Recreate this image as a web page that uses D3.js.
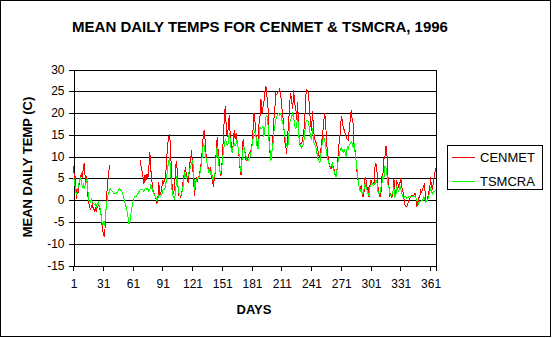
<!DOCTYPE html>
<html>
<head>
<meta charset="utf-8">
<script src="https://cdn.jsdelivr.net/npm/d3@7"></script>
<style>
  html, body { margin: 0; padding: 0; background: #fff; }
  svg { display: block; }
  text { font-family: "Liberation Sans", Arial, sans-serif; fill: #000; }
</style>
</head>
<body>
<svg id="chart" width="552" height="338"></svg>
<script>
// Daily mean temperatures, 1996 (day 1..366); null = no reading
const cenmet = [
  7.8, 5.0, 5.5, 0.3, 2.5, 2.0, 4.6, 5.5, 6.0, 5.0,
  7.9, 8.6, 4.0, 5.5, 3.0, -0.5, -1.0, -2.3, -1.5, -1.0,
  -2.0, -2.5, -1.8, -2.7, -1.5, -1.2, -1.5, -2.5, -3.5, -6.5,
  -7.5, -8.4, -6.0, -1.0, 3.0, 5.5, 7.2, 8.2, null, null,
  null, null, null, null, null, null, null, null, null, null,
  null, null, null, null, null, null, null, null, null, null,
  null, null, null, null, null, null, null, 9.3, 8.0, 6.8,
  5.5, 3.8, 5.8, 4.5, 6.0, 5.0, 7.5, 11.0, 7.0, 4.5,
  2.5, 1.8, 1.0, 0.5, -0.8, 0.2, 4.2, 1.0, 1.5, 2.8,
  4.5, 3.8, 4.8, 6.0, 9.5, 13.0, 14.5, 15.2, 11.0, 4.5,
  2.0, 1.5, 3.5, 7.8, 9.0, 4.5, 1.0, 1.5, 0.8, 1.2,
  3.5, 5.0, 6.5, 7.7, 5.0, 4.5, 4.0, 8.3, 9.0, 11.5,
  8.0, 5.0, 1.0, 3.5, 5.3, 4.5, 5.0, 5.8, 7.5, 9.0,
  12.0, 15.5, 16.2, 12.5, 9.5, 8.0, 7.5, 6.5, 7.5, 5.0,
  5.5, 3.0, 5.0, 6.5, 12.0, 14.6, 10.5, 9.0, 5.5, 6.0,
  9.5, 14.0, 18.5, 21.5, 17.0, 14.5, 16.5, 19.5, 15.0, 13.0,
  11.5, 12.5, 16.0, 14.0, 15.5, 13.0, 12.0, 9.8, 7.0, 5.7,
  10.0, 14.0, 12.0, 11.0, 9.2, 9.0, 10.0, 10.7, 11.0, 11.5,
  13.0, 16.0, 20.0, 18.0, 15.0, 12.5, 13.5, 17.5, 19.0, 23.2,
  20.0, 21.4, 22.5, 25.0, 26.3, 24.0, 22.0, 15.0, 11.0, 9.5,
  10.7, 14.0, 18.5, 21.0, 24.5, 24.2, 24.8, 25.0, 25.5, 24.0,
  21.5, 19.5, 17.0, 13.5, 12.5, 10.7, 15.0, 18.0, 22.5, 24.5,
  22.5, 21.0, 25.3, 22.0, 21.5, 18.5, 22.5, 16.5, 12.8, 13.0,
  13.0, 13.8, 15.3, 17.5, 23.5, 25.3, 25.0, 24.5, 20.7, 17.6,
  16.0, 20.5, 16.5, 14.0, 13.5, 13.0, 12.0, 10.5, 10.0, 10.7,
  13.0, 14.6, 17.0, 19.9, 19.0, 14.0, 11.0, 9.5, 8.0, 7.3,
  7.3, 8.4, 7.5, 6.9, 5.5, 5.8, 7.7, 10.5, 14.0, 15.3,
  19.2, 18.4, 16.5, 16.1, 15.3, 14.6, 14.0, 13.8, 16.0, 18.4,
  20.7, 18.5, 17.6, 12.0, 11.5, 8.7, 6.1, 4.5, 3.0, 2.0,
  3.5, 1.5, 0.7, 2.0, 5.4, 4.6, 2.5, 3.0, 0.7, 3.5,
  4.6, 3.8, 3.8, 4.0, 7.6, 8.4, 6.5, 3.0, 1.5, 0.7,
  1.5, 5.4, 6.1, 9.5, 10.0, 12.5, 10.7, 5.5, 3.4, 1.0,
  1.5, 0.7, 1.5, 5.0, 2.5, 1.5, 4.2, 3.8, 3.0, 3.8,
  5.0, 3.0, 2.3, 0.7, -1.0, -1.5, -1.5, -1.0, 0.0, 0.4,
  0.8, 1.1, 1.1, 1.1, 1.5, 1.5, -1.5, -1.0, 0.5, 0.5,
  2.3, 1.8, 2.7, 3.0, 4.0, -0.5, 0.0, 0.0, 2.0, 2.0,
  5.4, 3.0, 2.5, 4.5, 5.8, 7.3
];

const tsmcra = [
  5.0, 4.5, 2.0, 1.2, 2.5, 3.0, 4.5, 5.0, 4.2, 3.0,
  3.5, 2.5, 3.8, 4.5, 5.0, 0.0, -0.3, -0.5, 0.2, -0.5,
  -0.8, -1.0, -0.8, -1.5, -0.8, -0.5, -1.2, -2.0, -4.0, -5.5,
  -5.0, -6.0, -4.5, -1.5, 0.0, 1.5, 1.8, 2.7, 2.3, 2.0,
  1.8, 1.5, 1.5, 1.6, 1.8, 2.2, 2.6, 2.5, 2.2, 1.8,
  1.2, 0.3, -0.8, -1.5, -2.5, -4.0, -5.4, -4.8, -3.0, -1.5,
  -0.5, 0.5, 1.0, 0.8, 1.2, 1.5, 2.0, 2.3, 2.6, 2.5,
  2.4, 2.0, 2.5, 2.8, 2.4, 2.6, 2.0, 2.5, 3.5, 2.8,
  2.0, 1.5, 1.0, 0.5, 0.0, 0.3, 1.0, 1.0, 0.8, 1.2,
  2.3, 2.5, 2.5, 3.5, 5.5, 7.5, 9.0, 9.8, 6.0, 3.0,
  1.0, 0.7, 0.3, 2.0, 5.5, 4.0, 2.0, 1.2, 1.0, 1.5,
  2.5, 4.0, 6.5, 5.8, 5.0, 5.3, 6.0, 7.0, 7.5, 8.5,
  9.0, 7.5, 2.3, 3.5, 4.6, 5.0, 5.0, 5.3, 7.0, 8.0,
  11.0, 13.0, 12.5, 10.0, 9.5, 8.0, 6.5, 7.0, 6.1, 6.9,
  5.0, 4.6, 5.5, 6.5, 11.0, 12.5, 9.0, 7.5, 6.0, 7.0,
  8.5, 11.0, 12.5, 14.0, 13.5, 12.5, 13.0, 15.3, 14.0, 11.5,
  11.0, 12.5, 13.0, 12.5, 13.0, 13.8, 12.0, 10.5, 7.5, 6.5,
  9.5, 11.8, 12.0, 10.7, 10.0, 9.2, 9.0, 9.5, 10.0, 11.0,
  12.5, 14.0, 15.5, 16.0, 14.5, 12.5, 11.7, 14.0, 16.9, 16.3,
  16.5, 16.9, 14.5, 16.5, 19.0, 19.5, 17.8, 13.8, 12.0, 9.0,
  11.0, 12.5, 15.5, 17.0, 18.5, 19.2, 19.8, 19.9, 19.5, 19.9,
  18.5, 17.6, 16.9, 15.0, 13.5, 12.3, 12.0, 14.6, 17.6, 18.5,
  19.2, 19.9, 19.2, 17.0, 16.5, 16.9, 19.5, 15.3, 13.0, 12.5,
  12.0, 12.5, 13.0, 15.0, 17.5, 18.4, 18.4, 18.0, 16.0, 14.6,
  13.8, 16.5, 13.3, 13.0, 12.3, 11.5, 10.0, 9.2, 8.7, 9.0,
  12.3, 13.0, 14.5, 14.0, 13.0, 11.0, 9.5, 9.0, 8.0, 7.7,
  8.0, 8.4, 7.0, 6.5, 5.5, 5.4, 7.7, 9.2, 10.5, 11.5,
  12.0, 11.5, 11.0, 11.5, 11.0, 10.0, 12.3, 11.5, 12.6, 13.0,
  13.4, 13.0, 12.0, 13.0, 10.7, 9.0, 6.9, 4.5, 3.0, 2.0,
  2.5, 1.5, 1.8, 2.7, 3.8, 3.0, 2.3, 1.5, 1.0, 3.0,
  3.5, 3.8, 3.4, 3.5, 3.8, 4.6, 4.0, 2.0, 1.5, 1.5,
  3.0, 3.8, 5.4, 5.0, 7.7, 7.5, 6.0, 3.5, 3.0, 1.5,
  1.1, 1.2, 2.0, 3.0, 0.8, 1.0, 3.0, 2.5, 2.0, 3.4,
  2.5, 1.5, 0.8, 0.5, 0.8, 0.8, 0.4, 0.6, 0.8, 0.8,
  0.8, 0.8, 0.9, 0.8, 0.8, 0.8, 0.0, -0.3, -0.8, -0.4,
  -0.4, 0.0, 0.0, 0.8, 0.5, -0.4, -0.2, 0.0, 0.8, 1.5,
  3.0, 2.0, 1.5, 1.9, 2.0, 2.3
];

const seriesNames = ["CENMET", "TSMCRA"];
const seriesColors = ["#ff0000", "#00ff00"];
const dayLabels = [1, 31, 61, 91, 121, 151, 181, 211, 241, 271, 301, 331, 361];
const tempTicks = [-15, -10, -5, 0, 5, 10, 15, 20, 25, 30];

const svg = d3.select("#chart");
const W = 552, H = 338;
const plot = { left: 73, right: 436, top: 69.5, bottom: 265.5 };

// chart area frame
svg.append("rect")
  .attr("x", 0.5).attr("y", 0.5)
  .attr("width", W - 2).attr("height", H - 2)
  .attr("fill", "#fff").attr("stroke", "#000");

// categories are days: each day gets one slot, ticks fall between slots
const x = d3.scaleLinear().domain([0.5, cenmet.length + 0.5]).range([plot.left, plot.right]);
const y = d3.scaleLinear().domain([-15, 30]).range([plot.bottom, plot.top]);

// horizontal gridlines
svg.append("g")
  .selectAll("line")
  .data(tempTicks.filter(t => t > -15))
  .join("line")
  .attr("x1", plot.left).attr("x2", plot.right)
  .attr("y1", d => Math.round(y(d)) + 0.5).attr("y2", d => Math.round(y(d)) + 0.5)
  .attr("stroke", "#000").attr("shape-rendering", "crispEdges");

// right border of the plot area
svg.append("line")
  .attr("x1", plot.right + 0.5).attr("x2", plot.right + 0.5)
  .attr("y1", plot.top).attr("y2", plot.bottom + 0.5)
  .attr("stroke", "#000").attr("shape-rendering", "crispEdges");

// y axis
const yAxis = d3.axisLeft(y).tickValues(tempTicks).tickSize(5).tickPadding(4).tickFormat(d3.format("d"));
const gy = svg.append("g")
  .attr("transform", `translate(${plot.left + 0.5},0)`)
  .call(yAxis);
gy.select(".domain").attr("stroke", "#000").attr("shape-rendering", "crispEdges");
gy.selectAll(".tick line").attr("shape-rendering", "crispEdges")
  .attr("transform", function () { return null; });
gy.selectAll(".tick").attr("transform", d => `translate(0,${Math.round(y(d)) + 0.5})`);
gy.selectAll(".tick text")
  .attr("font-size", 12)
  .attr("font-family", "Liberation Sans, Arial, sans-serif")
  .text(d => d < 0 ? "-" + Math.abs(d) : d);

// x axis: tick marks between day slots, labels centred on the day
const tickBounds = dayLabels.map(d => d - 0.5);
const xAxisTicks = d3.axisBottom(x).tickValues(tickBounds).tickSize(5).tickFormat("");
const gx = svg.append("g")
  .attr("transform", `translate(0,${plot.bottom})`)
  .call(xAxisTicks);
gx.select(".domain").attr("stroke", "#000").attr("shape-rendering", "crispEdges");
gx.selectAll(".tick line").attr("shape-rendering", "crispEdges");

const xAxisLabels = d3.axisBottom(x).tickValues(dayLabels).tickSize(0).tickPadding(14);
const gxl = svg.append("g")
  .attr("transform", `translate(0,${plot.bottom})`)
  .call(xAxisLabels);
gxl.select(".domain").remove();
gxl.selectAll(".tick text")
  .attr("font-size", 12)
  .attr("font-family", "Liberation Sans, Arial, sans-serif");

// series lines
const line = d3.line()
  .defined(d => d.v !== null)
  .x(d => x(d.day))
  .y(d => y(d.v));

[cenmet, tsmcra].forEach((vals, i) => {
  svg.append("path")
    .datum(vals.map((v, k) => ({ day: k + 1, v })))
    .attr("fill", "none")
    .attr("stroke", seriesColors[i])
    .attr("stroke-width", 1)
    .attr("shape-rendering", "crispEdges")
    .attr("d", line);
});

// titles
svg.append("text")
  .attr("x", 260).attr("y", 32)
  .attr("text-anchor", "middle")
  .attr("font-size", 15).attr("font-weight", "bold")
  .text("MEAN DAILY TEMPS FOR CENMET & TSMCRA, 1996");

svg.append("text")
  .attr("transform", "translate(31.5,167) rotate(-90)")
  .attr("text-anchor", "middle")
  .attr("font-size", 13).attr("font-weight", "bold")
  .text("MEAN DAILY TEMP (C)");

svg.append("text")
  .attr("x", 254).attr("y", 313.5)
  .attr("text-anchor", "middle")
  .attr("font-size", 13).attr("font-weight", "bold")
  .text("DAYS");

// legend
const lg = svg.append("g").attr("transform", "translate(447.5,145.5)");
lg.append("rect").attr("width", 95).attr("height", 44)
  .attr("fill", "#fff").attr("stroke", "#000");
seriesNames.forEach((name, i) => {
  const cy = 11 + i * 24;
  lg.append("line")
    .attr("x1", 4.5).attr("x2", 27.5)
    .attr("y1", cy + 0.5).attr("y2", cy + 0.5)
    .attr("stroke", seriesColors[i]).attr("shape-rendering", "crispEdges");
  lg.append("text")
    .attr("x", 32.5).attr("y", cy + 5)
    .attr("font-size", 13)
    .text(name);
});
</script>
</body>
</html>
